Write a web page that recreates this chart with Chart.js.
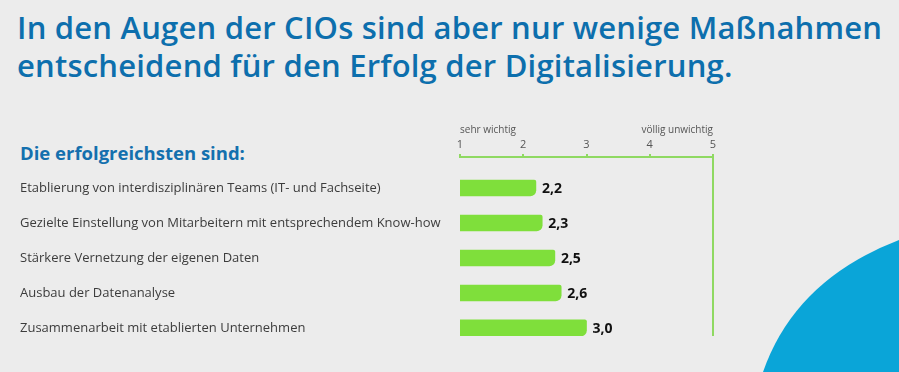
<!DOCTYPE html>
<html><head><meta charset="utf-8">
<script src="https://cdn.jsdelivr.net/npm/chart.js@4.4.1/dist/chart.umd.min.js"></script>
<style>
html,body{margin:0;padding:0;background:#ececec;width:899px;height:372px;overflow:hidden;position:relative;font-family:"Open Sans",sans-serif}
#title{position:absolute;left:17px;top:8px;color:#0d6fad;font-size:31px;line-height:38px;font-weight:600;white-space:nowrap;letter-spacing:0.2px}
#sub{position:absolute;left:20px;top:140px;color:#1470ae;font-size:18.5px;font-weight:700;white-space:nowrap}
svg{position:absolute;left:0;top:0}
canvas{position:absolute;left:0;top:0}
</style></head><body>
<svg width="899" height="372"><path d="M763 372 Q795 280 899 240 L899 372 Z" fill="#0aa5d8"/></svg>
<div id="title">In den Augen der CIOs sind aber nur wenige Maßnahmen<br>entscheidend für den Erfolg der Digitalisierung.</div>
<div id="sub">Die erfolgreichsten sind:</div>
<canvas id="c" width="899" height="372"></canvas>
<script>
const categories = [
  'Etablierung von interdisziplinären Teams (IT- und Fachseite)',
  'Gezielte Einstellung von Mitarbeitern mit entsprechendem Know-how',
  'Stärkere Vernetzung der eigenen Daten',
  'Ausbau der Datenanalyse',
  'Zusammenarbeit mit etablierten Unternehmen'
];
const values = [2.2, 2.3, 2.5, 2.6, 3.0];
const tickLabels = ['1', '2', '3', '4', '5'];
const scaleEnds = ['sehr wichtig', 'völlig unwichtig'];

const GREEN = '#7fdf3b';
const AXIS = '#8fd962';

const endLabels = {
  id: 'endLabels',
  afterDraw(chart) {
    const c = chart.ctx, x = chart.scales.x;
    c.save();
    c.font = '10px "Open Sans"';
    c.fillStyle = '#555';
    c.textBaseline = 'middle';
    c.textAlign = 'left';
    c.fillText(scaleEnds[0], x.getPixelForValue(1), 130);
    c.textAlign = 'right';
    c.fillText(scaleEnds[1], x.getPixelForValue(5), 130);
    c.restore();
  }
};
const valueLabels = {
  id: 'valueLabels',
  afterDatasetsDraw(chart) {
    const c = chart.ctx;
    const meta = chart.getDatasetMeta(0);
    c.save();
    c.font = 'bold 14px "Open Sans"';
    c.fillStyle = '#111';
    c.textBaseline = 'middle';
    c.textAlign = 'left';
    meta.data.forEach((bar, i) => {
      c.fillText(values[i].toFixed(1).replace('.', ','), bar.x + 6, bar.y + 1);
    });
    c.restore();
  }
};

new Chart(document.getElementById('c'), {
  type: 'bar',
  data: {
    datasets: [{
      data: values.map((v, i) => ({ x: v, y: i })),
      backgroundColor: GREEN,
      borderRadius: { topLeft: 0, bottomLeft: 0, topRight: 2, bottomRight: 6 },
      borderSkipped: 'start',
      barThickness: 16
    }]
  },
  options: {
    indexAxis: 'y',
    responsive: false,
    animation: false,
    layout: { padding: { left: 20, top: 120, right: 186, bottom: 36 } },
    plugins: { legend: { display: false }, tooltip: { enabled: false } },
    scales: {
      x: {
        type: 'linear', position: 'top', min: 1, max: 5,
        ticks: { stepSize: 1, callback: v => tickLabels[v - 1], color: '#555', font: { size: 11, family: 'Open Sans' }, padding: 3 },
        grid: { color: c => (c.tick && c.tick.value === 5 ? AXIS : 'transparent'), tickColor: AXIS, tickLength: 3, lineWidth: 2 },
        border: { display: true, color: AXIS, width: 2 },
        afterFit: s => { s.height = 37; }
      },
      y: {
        type: 'linear', reverse: true, min: -0.886, max: 4.23, offset: false,
        afterBuildTicks: s => { s.ticks = categories.map((_, i) => ({ value: i })); },
        ticks: { callback: v => categories[v], crossAlign: 'far', color: '#3c3c3c', font: { size: 13, family: 'Open Sans' }, padding: 0 },
        grid: { display: false, offset: false },
        border: { display: false },
        afterFit: s => { s.width = 440; }
      }
    }
  },
  plugins: [endLabels, valueLabels]
});
</script>
</body></html>
